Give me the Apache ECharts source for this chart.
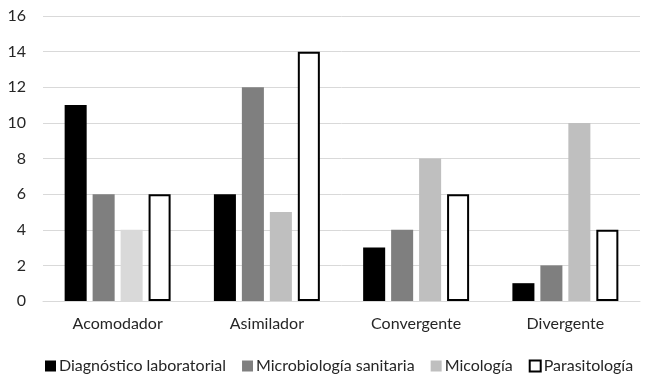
<!DOCTYPE html>
<html>
<head>
<meta charset="utf-8">
<script src="https://cdn.jsdelivr.net/npm/echarts@6/dist/echarts.min.js"></script>
<style>
  html, body { margin: 0; padding: 0; background: #ffffff; }
  #chart { width: 645px; height: 374px; }
</style>
</head>
<body>
<div id="chart"></div>
<script>
// Learning styles per specialty
const categories = ['Acomodador', 'Asimilador', 'Convergente', 'Divergente'];
const seriesNames = ['Diagnóstico laboratorial', 'Microbiología sanitaria', 'Micología', 'Parasitología'];
const diagnostico = [11, 6, 3, 1];
const microbiologia = [6, 12, 4, 2];
const micologia = [4, 5, 8, 10];
const parasitologia = [6, 14, 6, 4];
const yTicks = [0, 2, 4, 6, 8, 10, 12, 14, 16];

const font = 'Lato, "Open Sans", sans-serif';
const textColor = '#262626';

const chart = echarts.init(document.getElementById('chart'));

chart.setOption({
  animation: false,
  backgroundColor: '#ffffff',
  textStyle: { fontFamily: font },
  grid: { left: 43, right: 5, top: 16, bottom: 73, containLabel: false },
  legend: {
    top: 353,
    left: 40,
    itemWidth: 11,
    itemHeight: 11,
    itemGap: 16,
    icon: 'rect',
    textStyle: { fontFamily: font, fontSize: 16, color: textColor, padding: [0, 0, 0, -2] },
    data: seriesNames
  },
  xAxis: {
    type: 'category',
    data: categories,
    z: 3,
    axisLine: { lineStyle: { color: '#d9d9d9', width: 1 } },
    axisTick: { show: false },
    axisLabel: { fontFamily: font, fontSize: 16, color: textColor, margin: 15 }
  },
  yAxis: {
    type: 'value',
    min: yTicks[0],
    max: yTicks[yTicks.length - 1],
    interval: 2,
    axisLine: { show: false },
    axisTick: { show: false },
    splitLine: { lineStyle: { color: '#d9d9d9', width: 1 } },
    axisLabel: { fontFamily: font, fontSize: 16, color: textColor, margin: 17 }
  },
  series: [
    {
      name: seriesNames[0], type: 'bar', data: diagnostico,
      barGap: '27%', barCategoryGap: '29%',
      itemStyle: { color: '#000000' }
    },
    {
      name: seriesNames[1], type: 'bar', data: microbiologia,
      itemStyle: { color: '#7f7f7f' }
    },
    {
      name: seriesNames[2], type: 'bar',
      data: micologia.map((v, i) => i === 0 ? { value: v, itemStyle: { color: '#d9d9d9' } } : v),
      itemStyle: { color: '#bfbfbf' }
    },
    {
      name: seriesNames[3], type: 'bar', data: parasitologia,
      itemStyle: { color: '#ffffff', borderColor: '#000000', borderWidth: 2 }
    }
  ]
});
</script>
</body>
</html>
